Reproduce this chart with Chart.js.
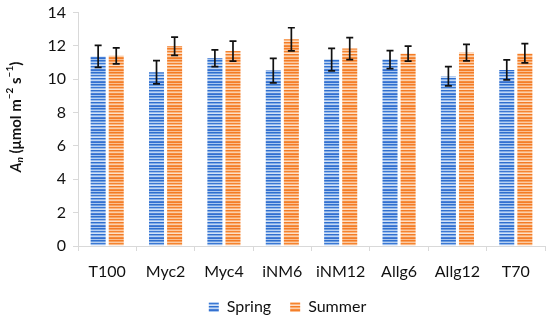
<!DOCTYPE html>
<html>
<head>
<meta charset="utf-8">
<script src="https://cdn.jsdelivr.net/npm/chart.js@4"></script>
<style>
  body { margin: 0; background: #fff; }
  #wrap { width: 550px; height: 320px; }
</style>
</head>
<body>
<div id="wrap"><canvas id="chart" width="550" height="320"></canvas></div>
<script>
const categories = ["T100", "Myc2", "Myc4", "iNM6", "iNM12", "Allg6", "Allg12", "T70"];
const springValues = [11.37, 10.42, 11.26, 10.52, 11.18, 11.18, 10.18, 10.56];
const springErrors = [0.66, 0.70, 0.50, 0.74, 0.68, 0.54, 0.58, 0.60];
const summerValues = [11.41, 11.98, 11.69, 12.40, 11.84, 11.54, 11.60, 11.56];
const summerErrors = [0.48, 0.55, 0.60, 0.69, 0.66, 0.45, 0.50, 0.58];
const yTicks = [0, 2, 4, 6, 8, 10, 12, 14];

const FONT = 'Lato';

// striped fill like the excel picture
function stripes(rows) {
    const c = document.createElement('canvas');
    c.width = 4;
    c.height = rows.length;
    const cx = c.getContext('2d');
    rows.forEach((col, i) => {
        cx.fillStyle = col;
        cx.fillRect(0, i, 4, 1);
    });
    return cx.createPattern(c, 'repeat');
}

const ctx = document.getElementById('chart').getContext('2d');
const bluePattern = stripes(['#2f6fcf', '#6b9de0', '#b7d0f2', '#3a78d4', '#9bbdec', '#d3e2f7', '#2f6fcf', '#82ace6', '#c2d7f4', '#4a82d8', '#3470d0', '#a9c7ef']);
const orangePattern = stripes(['#f47b25', '#f8a15e', '#fccaa3', '#f5842f', '#fab784', '#fde0c8', '#f47b25', '#f9ac70', '#fbd0ad', '#f68d3d', '#f47e29', '#fbbf91']);

const errorBars = {
    id: 'errorBars',
    afterDatasetsDraw(chart) {
        const c = chart.ctx;
        const y = chart.scales.y;
        const errs = [springErrors, summerErrors];
        c.save();
        c.strokeStyle = '#111';
        c.lineWidth = 1.7;
        chart.data.datasets.forEach((ds, d) => {
            const meta = chart.getDatasetMeta(d);
            meta.data.forEach((bar, i) => {
                const v = ds.data[i];
                const top = y.getPixelForValue(v + errs[d][i]);
                const bot = y.getPixelForValue(v - errs[d][i]);
                c.beginPath();
                c.moveTo(bar.x, top); c.lineTo(bar.x, bot);
                c.moveTo(bar.x - 3.5, top); c.lineTo(bar.x + 3.5, top);
                c.moveTo(bar.x - 3.5, bot); c.lineTo(bar.x + 3.5, bot);
                c.stroke();
            });
        });
        c.restore();
    }
};

// y axis title with italic A, subscript n and superscripts
const yTitle = {
    id: 'yTitle',
    afterDraw(chart) {
        const c = chart.ctx;
        const parts = [
            { t: 'A', f: 'italic bold 15px ' + FONT, dy: 0 },
            { t: 'n', f: 'italic bold 10px ' + FONT, dy: 4 },
            { t: ' (\u03bcmol m', f: 'bold 15px ' + FONT, dy: 0 },
            { t: '\u22122', f: 'bold 10px ' + FONT, dy: -6 },
            { t: ' s', f: 'bold 15px ' + FONT, dy: 0 },
            { t: '\u22121', f: 'bold 10px ' + FONT, dy: -6 },
            { t: ')', f: 'bold 15px ' + FONT, dy: 0 }
        ];
        c.save();
        let total = 0;
        parts.forEach(p => { c.font = p.f; p.w = c.measureText(p.t).width; total += p.w; });
        c.translate(15, 117);
        c.rotate(-Math.PI / 2);
        c.fillStyle = '#111';
        c.textBaseline = 'middle';
        let x = -total / 2;
        parts.forEach(p => {
            c.font = p.f;
            c.fillText(p.t, x, 1 + p.dy);
            x += p.w;
        });
        c.restore();
    }
};

new Chart(ctx, {
    type: 'bar',
    data: {
        labels: categories,
        datasets: [
            { label: 'Spring', data: springValues, backgroundColor: bluePattern },
            { label: 'Summer', data: summerValues, backgroundColor: orangePattern }
        ]
    },
    options: {
        responsive: false,
        animation: false,
        devicePixelRatio: 1,
        datasets: { bar: { categoryPercentage: 0.62, barPercentage: 0.83 } },
        layout: { padding: { left: 30, right: 5, top: 0, bottom: 0 } },
        plugins: {
            tooltip: { enabled: false },
            legend: {
                position: 'bottom',
                maxHeight: 40,
                labels: {
                    boxWidth: 10, boxHeight: 10, padding: 19,
                    color: '#111', font: { family: FONT, size: 16 }
                }
            }
        },
        scales: {
            x: {
                afterFit(s) { s.height = 34; },
                grid: { drawOnChartArea: false, color: '#d9d9d9', tickLength: 5 },
                border: { color: '#d9d9d9' },
                ticks: { color: '#111', font: { family: FONT, size: 16 }, padding: 11, maxRotation: 0 }
            },
            y: {
                min: 0, max: 14,
                afterFit(s) { s.width = 48; },
                afterBuildTicks(s) { s.ticks = yTicks.map(v => ({ value: v })); },
                grid: { drawOnChartArea: false, color: '#d9d9d9', tickLength: 5 },
                border: { color: '#d9d9d9' },
                ticks: { color: '#111', font: { family: FONT, size: 16, lineHeight: 0.7 }, padding: 7 }
            }
        }
    },
    plugins: [errorBars, yTitle]
});
</script>
</body>
</html>
